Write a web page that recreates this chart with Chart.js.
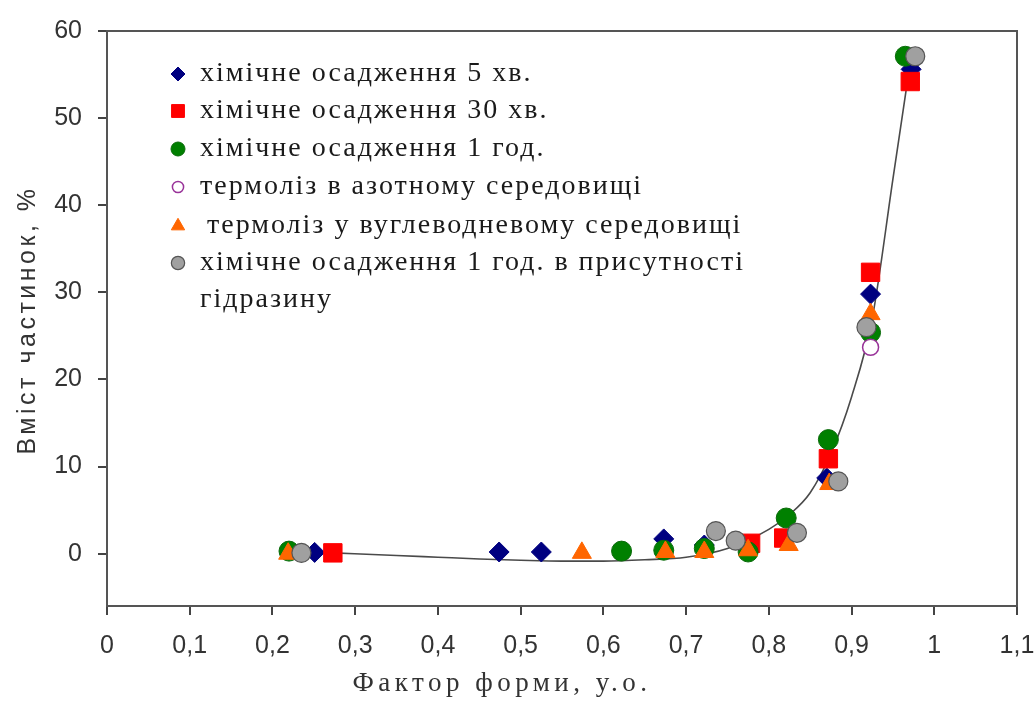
<!DOCTYPE html>
<html>
<head>
<meta charset="utf-8">
<script src="https://cdn.jsdelivr.net/npm/chart.js@4.4.1/dist/chart.umd.min.js"></script>
<style>
  html, body { margin: 0; padding: 0; background: #fff; }
  #wrap { width: 1036px; height: 709px; position: relative; }
</style>
</head>
<body>
<div id="wrap"><canvas id="myChart"></canvas></div>
<script>
const seriesNames = [
  'хімічне осадження 5 хв.',
  'хімічне осадження 30 хв.',
  'хімічне осадження 1 год.',
  'термоліз в азотному середовищі',
  'термоліз у вуглеводневому середовищі',
  ['хімічне осадження 1 год. в присутності', 'гідразину'],
];

const chem5X = [0.251, 0.474, 0.525, 0.673, 0.722, 0.87, 0.923, 0.972];
const chem5Y = [0.15, 0.2, 0.2, 1.7, 1.0, 8.7, 29.8, 55.6];

const chem30X = [0.273, 0.778, 0.818, 0.872, 0.923, 0.971];
const chem30Y = [0.1, 1.2, 1.8, 10.9, 32.3, 54.2];

const chem60X = [0.22, 0.622, 0.673, 0.722, 0.775, 0.821, 0.872, 0.923, 0.965];
const chem60Y = [0.3, 0.3, 0.4, 0.6, 0.2, 4.1, 13.1, 25.4, 57.1];

const nitrogenX = [0.923];
const nitrogenY = [23.7];

const hydrocarbonX = [0.219, 0.574, 0.675, 0.722, 0.775, 0.824, 0.873, 0.923];
const hydrocarbonY = [0.0, 0.1, 0.2, 0.2, 0.4, 1.0, 8.0, 27.5];

const hydrazineX = [0.235, 0.736, 0.76, 0.834, 0.884, 0.918, 0.977];
const hydrazineY = [0.1, 2.6, 1.5, 2.4, 8.3, 26.0, 57.1];

// trend curve
const trendX = [0.273, 0.35, 0.4, 0.45, 0.5, 0.55, 0.6, 0.65, 0.7, 0.75, 0.8, 0.825, 0.85, 0.875, 0.9, 0.925, 0.95, 0.968];
const trendY = [0.1, -0.2, -0.4, -0.6, -0.75, -0.85, -0.85, -0.7, -0.4, 0.6, 2.8, 4.5, 7, 11.5, 18, 27, 43, 54.5];

const xTickValues = [0, 0.1, 0.2, 0.3, 0.4, 0.5, 0.6, 0.7, 0.8, 0.9, 1, 1.1];
const xTickLabels = ['0', '0,1', '0,2', '0,3', '0,4', '0,5', '0,6', '0,7', '0,8', '0,9', '1', '1,1'];
const yTickValues = [0, 10, 20, 30, 40, 50, 60];

const styles = [
  { pointStyle: 'rectRot', radius: 10, bg: '#000080', border: '#000080', bw: 1 },
  { pointStyle: 'rect', radius: 13, bg: '#ff0000', border: '#ff0000', bw: 1 },
  { pointStyle: 'circle', radius: 10, bg: '#008000', border: '#0a6a0a', bw: 1 },
  { pointStyle: 'circle', radius: 8, bg: '#ffffff', border: '#993399', bw: 1.5 },
  { pointStyle: 'triangle', radius: 11, bg: '#ff6600', border: '#ff6600', bw: 1 },
  { pointStyle: 'circle', radius: 9.5, bg: '#a0a0a0', border: '#555555', bw: 1.2 },
];

const xs = [chem5X, chem30X, chem60X, nitrogenX, hydrocarbonX, hydrazineX];
const ys = [chem5Y, chem30Y, chem60Y, nitrogenY, hydrocarbonY, hydrazineY];

function toPoints(x, y) {
  return x.map((v, i) => ({ x: v, y: y[i] }));
}

const datasets = xs.map((x, i) => ({
  type: 'scatter',
  label: Array.isArray(seriesNames[i]) ? seriesNames[i].join(' ') : seriesNames[i],
  data: toPoints(x, ys[i]),
  pointStyle: styles[i].pointStyle,
  pointRadius: styles[i].radius,
  pointHoverRadius: styles[i].radius,
  backgroundColor: styles[i].bg,
  borderColor: styles[i].border,
  borderWidth: styles[i].bw,
  order: 6 - i,
}));

datasets.push({
  type: 'line',
  label: 'trend',
  data: toPoints(trendX, trendY),
  borderColor: '#4a4a4a',
  borderWidth: 1.6,
  pointRadius: 0,
  fill: false,
  cubicInterpolationMode: 'monotone',
  order: 10,
});

function legendMarker(ctx, s, x, y) {
  const r = s.radius * 0.7;
  ctx.beginPath();
  if (s.pointStyle === 'rectRot') {
    ctx.moveTo(x, y - r); ctx.lineTo(x + r, y); ctx.lineTo(x, y + r); ctx.lineTo(x - r, y);
  } else if (s.pointStyle === 'rect') {
    const h = r * Math.SQRT1_2;
    ctx.rect(x - h, y - h, 2 * h, 2 * h);
  } else if (s.pointStyle === 'triangle') {
    ctx.moveTo(x, y - r); ctx.lineTo(x + r * 0.866, y + r * 0.5); ctx.lineTo(x - r * 0.866, y + r * 0.5);
  } else {
    ctx.arc(x, y, r, 0, Math.PI * 2);
  }
  ctx.closePath();
  ctx.fill();
  ctx.stroke();
}

// frame + legend + axis titles
const extras = {
  id: 'extras',
  afterDraw(chart) {
    const { ctx, chartArea } = chart;
    ctx.save();
    ctx.strokeStyle = '#555';
    ctx.lineWidth = 2;
    ctx.strokeRect(chartArea.left, chartArea.top, chartArea.right - chartArea.left, chartArea.bottom - chartArea.top);

    // legend
    const rows = [74, 111, 149, 187, 226, 263];
    const textX = [200, 200, 200, 200, 207, 200];
    ctx.font = '28px "Liberation Serif", "Times New Roman", serif';
    ctx.letterSpacing = '2px';
    ctx.textBaseline = 'middle';
    ctx.textAlign = 'left';
    rows.forEach((y, i) => {
      const s = styles[i];
      ctx.fillStyle = s.bg;
      ctx.strokeStyle = s.border;
      ctx.lineWidth = s.bw;
      legendMarker(ctx, s, 178, y);
      ctx.fillStyle = '#1a1a1a';
      const name = seriesNames[i];
      if (Array.isArray(name)) {
        name.forEach((line, k) => ctx.fillText(line, textX[i], y + k * 37));
      } else {
        ctx.fillText(name, textX[i], y);
      }
    });

    // x axis title
    ctx.font = '27px "Liberation Serif", "Times New Roman", serif';
    ctx.letterSpacing = '4.5px';
    ctx.textAlign = 'center';
    ctx.fillStyle = '#333';
    ctx.fillText('Фактор форми, у.о.', 502, 684);

    // y axis title
    ctx.translate(28, 320);
    ctx.rotate(-Math.PI / 2);
    ctx.font = '25px "Liberation Sans", Arial, sans-serif';
    ctx.letterSpacing = '3.5px';
    ctx.fillText('Вміст частинок, %', 0, 0);
    ctx.restore();
  },
};

const config = {
  data: { datasets },
  plugins: [extras],
  options: {
    responsive: true,
    maintainAspectRatio: false,
    animation: false,
    layout: { padding: { top: 27, right: 0, left: 0, bottom: 0 } },
    plugins: {
      legend: { display: false },
      tooltip: { enabled: false },
    },
    scales: {
      x: {
        type: 'linear',
        min: 0,
        max: 1.1,
        afterBuildTicks: (scale) => { scale.ticks = xTickValues.map((v) => ({ value: v })); },
        afterFit: (scale) => {
          scale.height = 103;
          scale.paddingRight = 19;
          scale.paddingLeft = 0;
        },
        grid: { drawOnChartArea: false, color: '#444', lineWidth: 2, tickLength: 9 },
        border: { color: '#555', width: 2 },
        ticks: {
          color: '#333',
          padding: 16,
          maxRotation: 0,
          autoSkip: false,
          font: { family: '"Liberation Sans", Arial, sans-serif', size: 25 },
          callback: (value) => xTickLabels[xTickValues.findIndex((v) => Math.abs(v - value) < 1e-6)],
        },
      },
      y: {
        type: 'linear',
        min: -6,
        max: 60,
        afterBuildTicks: (scale) => { scale.ticks = yTickValues.map((v) => ({ value: v })); },
        afterFit: (scale) => { scale.width = 107; },
        grid: { drawOnChartArea: false, color: '#444', lineWidth: 2, tickLength: 9 },
        border: { color: '#555', width: 2 },
        ticks: {
          color: '#333',
          padding: 16,
          font: { family: '"Liberation Sans", Arial, sans-serif', size: 25 },
        },
      },
    },
  },
};

const myChart = new Chart(document.getElementById('myChart'), config);
</script>
</body>
</html>
